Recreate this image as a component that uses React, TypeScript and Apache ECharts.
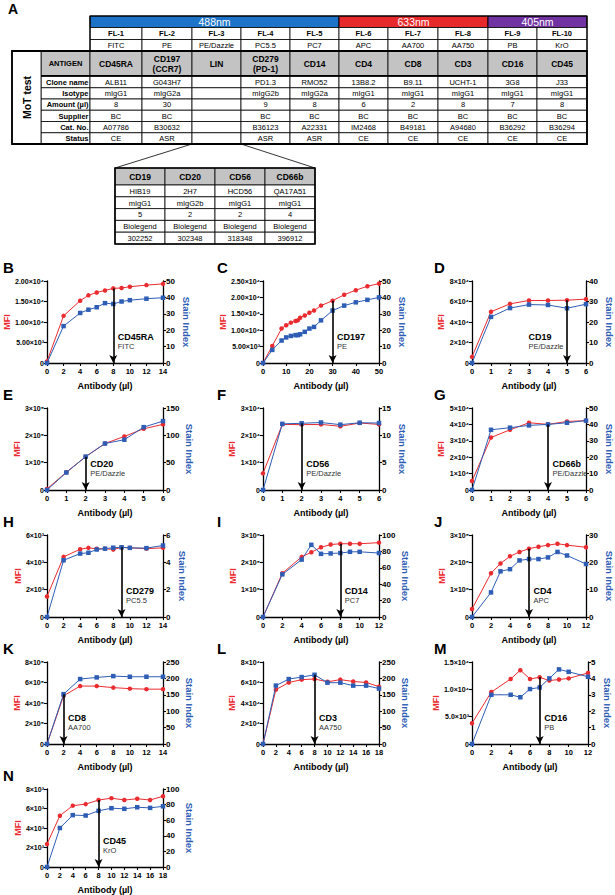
import React, { useEffect, useRef } from "react";
import * as echarts from "echarts";

// ---------- Table A data ----------
const lasers = ["488nm", "633nm", "405nm"];
const laserSpans = [5, 3, 2];
const laserColors = ["#1c73c7", "#e62a2c", "#7133a1"];
const channels = ["FL-1", "FL-2", "FL-3", "FL-4", "FL-5", "FL-6", "FL-7", "FL-8", "FL-9", "FL-10"];
const fluors = ["FITC", "PE", "PE/Dazzle", "PC5.5", "PC7", "APC", "AA700", "AA750", "PB", "KrO"];
const antigens = ["CD45RA", "CD197\n(CCR7)", "LIN", "CD279\n(PD-1)", "CD14", "CD4", "CD8", "CD3", "CD16", "CD45"];
const rowLabels = ["Clone name", "Isotype", "Amount (µl)", "Supplier", "Cat. No.", "Status"];
const cloneNames = ["ALB11", "G043H7", "", "PD1.3", "RMO52", "13B8.2", "B9.11", "UCHT-1", "3G8", "J33"];
const isotypes = ["mIgG1", "mIgG2a", "", "mIgG2b", "mIgG2a", "mIgG1", "mIgG1", "mIgG1", "mIgG1", "mIgG1"];
const amounts = ["8", "30", "", "9", "8", "6", "2", "8", "7", "8"];
const suppliers = ["BC", "BC", "", "BC", "BC", "BC", "BC", "BC", "BC", "BC"];
const catNos = ["A07786", "B30632", "", "B36123", "A22331", "IM2468", "B49181", "A94680", "B36292", "B36294"];
const statuses = ["CE", "ASR", "", "ASR", "ASR", "CE", "CE", "CE", "CE", "CE"];

const linAntigens = ["CD19", "CD20", "CD56", "CD66b"];
const linClones = ["HIB19", "2H7", "HCD56", "QA17A51"];
const linIsotypes = ["mIgG1", "mIgG2b", "mIgG1", "mIgG1"];
const linAmounts = ["5", "2", "2", "4"];
const linSuppliers = ["Biolegend", "Biolegend", "Biolegend", "Biolegend"];
const linCatNos = ["302252", "302348", "318348", "396912"];

// ---------- Panel data ----------
const bX = [0, 2, 4, 5, 6, 7, 8, 9, 10, 12, 14];
const bMFI = [400, 11500, 15200, 16500, 17200, 17700, 18200, 18300, 18600, 19000, 19300];
const bSI = [0, 22.5, 30.5, 32.5, 34, 36.5, 36, 37.5, 38.3, 39.2, 39.8];

const cX = [0, 4, 8, 10, 12, 14, 15, 16, 18, 20, 22, 25, 30, 35, 40, 45, 50];
const cMFI = [0, 5200, 10500, 11500, 12300, 12800, 13000, 13800, 14500, 15300, 16000, 17500, 19000, 20800, 22200, 23400, 24200];
const cSI = [0, 8, 13.7, 15.6, 16.5, 17, 17, 17.5, 19, 21, 22, 26, 32, 35, 37, 38.5, 40];

const dX = [0, 1, 2, 3, 4, 5, 6];
const dMFI = [6000, 50000, 57700, 61000, 61000, 61300, 62300];
const dSI = [0, 22.5, 26.8, 28.5, 28.3, 26.7, 28.7];

const eX = [0, 1, 2, 3, 4, 5, 6];
const eMFI = [4000, 65000, 122000, 170000, 196000, 224000, 240000];
const eSI = [0, 32, 61, 85, 92, 115, 126];

const fX = [0, 1, 2, 3, 4, 5, 6];
const fMFI = [6100, 24000, 23900, 24000, 23300, 24500, 24000];
const fSI = [0, 12.1, 12.2, 12.35, 11.95, 12.3, 12.25];

const gX = [0, 1, 2, 3, 4, 5, 6];
const gMFI = [5500, 32000, 36700, 41000, 40000, 41800, 42300];
const gSI = [0, 36.7, 38, 39.4, 40, 41, 42.3];

const hX = [0, 2, 4, 5, 6, 7, 8, 9, 10, 12, 14];
const hMFI = [1500, 4400, 4960, 5060, 4990, 5000, 4940, 5100, 5060, 5000, 5060];
const hSI = [0, 4.15, 4.64, 4.7, 4.94, 5.0, 5.07, 5.1, 5.06, 5.04, 5.23];

const iX = [0, 2, 4, 5, 6, 7, 8, 9, 10, 12];
const iMFI = [0, 160000, 220000, 237000, 255000, 265000, 268000, 268000, 268000, 272000];
const iSI = [0, 52, 70, 88, 77, 77.5, 78, 79.5, 79.5, 78];

const jX = [0, 2, 3, 4, 5, 6, 7, 8, 9, 10, 12];
const jMFI = [29000, 160000, 196000, 222000, 238000, 250000, 257000, 263000, 268000, 263000, 255000];
const jSI = [0, 9, 16.7, 17.5, 20.7, 21.2, 21.2, 21.8, 23.8, 22.5, 19.4];

const kX = [0, 2, 4, 6, 8, 10, 12, 14];
const kMFI = [0, 470000, 565000, 565000, 550000, 540000, 535000, 535000];
const kSI = [0, 152, 198, 203, 207, 205, 205, 205];

const lX = [0, 2, 4, 6, 8, 10, 12, 14, 16, 18];
const lMFI = [0, 53000, 60000, 62800, 63400, 60700, 62800, 61000, 60000, 56000];
const lSI = [0, 178, 198, 204, 211, 187, 187, 178, 178, 169];

const mX = [0, 2, 4, 5, 6, 7, 8, 9, 10, 12];
const mMFI = [3800, 9500, 11900, 13500, 11900, 12200, 11600, 11800, 12000, 13000];
const mSI = [0, 3.0, 3.0, 2.85, 3.35, 3.45, 4.0, 4.55, 4.4, 4.1];

const nX = [0, 2, 4, 6, 8, 10, 12, 14, 16, 18];
const nMFI = [2350, 5260, 6290, 6450, 6870, 7060, 6870, 7000, 6870, 7260];
const nSI = [0, 50, 66.5, 66, 72, 75.4, 74.6, 76.6, 75.8, 77.8];

const panelLetters = ["B", "C", "D", "E", "F", "G", "H", "I", "J", "K", "L", "M", "N"];
const panelMarkers = ["CD45RA", "CD197", "CD19", "CD20", "CD56", "CD66b", "CD279", "CD14", "CD4", "CD8", "CD3", "CD16", "CD45"];
const panelFluors = ["FITC", "PE", "PE/Dazzle", "PE/Dazzle", "PE/Dazzle", "PE/Dazzle", "PC5.5", "PC7", "APC", "AA700", "AA750", "PB", "KrO"];
const arrowAt = [8, 30, 5, 2, 2, 4, 9, 8, 6, 2, 8, 7, 8];
const xMax = [14, 50, 6, 6, 6, 6, 14, 12, 12, 14, 18, 12, 18];
const xStep = [2, 10, 1, 1, 1, 1, 2, 2, 2, 2, 2, 2, 2];
const mfiMax = [2e4, 2.5e4, 8e4, 3e5, 3e4, 5e4, 6e3, 3e5, 3e5, 8e5, 8e4, 1.5e4, 8e3];
const mfiStep = [5e3, 5e3, 2e4, 1e5, 1e4, 1e4, 2e3, 1e5, 1e5, 2e5, 2e4, 5e3, 2e3];
const mfiTickLabels = [
  ["0", "5.00×10³", "1.00×10⁴", "1.50×10⁴", "2.00×10⁴"],
  ["0", "5.00×10³", "1.00×10⁴", "1.50×10⁴", "2.00×10⁴", "2.50×10⁴"],
  ["0", "2×10⁴", "4×10⁴", "6×10⁴", "8×10⁴"],
  ["0", "1×10⁵", "2×10⁵", "3×10⁵"],
  ["0", "1×10⁴", "2×10⁴", "3×10⁴"],
  ["0", "1×10⁴", "2×10⁴", "3×10⁴", "4×10⁴", "5×10⁴"],
  ["0", "2×10³", "4×10³", "6×10³"],
  ["0", "1×10⁵", "2×10⁵", "3×10⁵"],
  ["0", "1×10⁵", "2×10⁵", "3×10⁵"],
  ["0", "2×10⁵", "4×10⁵", "6×10⁵", "8×10⁵"],
  ["0", "2×10⁴", "4×10⁴", "6×10⁴", "8×10⁴"],
  ["0", "5.0×10³", "1.0×10⁴", "1.5×10⁴"],
  ["0", "2×10³", "4×10³", "6×10³", "8×10³"],
];
const siMax = [50, 50, 40, 150, 15, 50, 6, 100, 30, 250, 250, 5, 100];
const siStep = [10, 10, 10, 50, 5, 10, 2, 20, 10, 50, 50, 1, 20];
const panelX = [bX, cX, dX, eX, fX, gX, hX, iX, jX, kX, lX, mX, nX];
const panelMFI = [bMFI, cMFI, dMFI, eMFI, fMFI, gMFI, hMFI, iMFI, jMFI, kMFI, lMFI, mMFI, nMFI];
const panelSI = [bSI, cSI, dSI, eSI, fSI, gSI, hSI, iSI, jSI, kSI, lSI, mSI, nSI];

// ---------- Layout / style ----------
const RED = "#ea2b30";
const BLUE = "#2e5db6";
const FONT = '"Liberation Sans", Arial, sans-serif';
const colLeft = [47, 263, 472];
const letterX = [3, 217, 434];
const rowTop = [281, 408, 535, 662, 789];
const plotW = 116;
const plotH = 82;
const labelOnLeft = [false, false, true, false, false, false, false, false, false, false, false, false, false];

const tableColX = [90, 142, 192, 241, 290, 339, 388, 438, 488, 537, 587];
const linColX = [115, 165, 215, 265, 315];

function buildGraphics() {
  const G: any[] = [];
  const rect = (x: number, y: number, w: number, h: number, fill: string, lw = 0.8) =>
    G.push({ type: "rect", silent: true, shape: { x, y, width: w, height: h }, style: { fill, stroke: "#000", lineWidth: lw } });
  const frame = (x: number, y: number, w: number, h: number, lw: number) =>
    G.push({ type: "rect", silent: true, shape: { x, y, width: w, height: h }, style: { fill: "none", stroke: "#000", lineWidth: lw } });
  const txt = (x: number, y: number, s: string, font: string, fill = "#000", align = "center", rot = 0) =>
    G.push({
      type: "text", silent: true, x, y, rotation: rot,
      style: { text: s, font, fill, textAlign: align, textVerticalAlign: "middle", align, verticalAlign: "middle", lineHeight: 10 },
    });

  // Label A
  txt(13, 9, "A", `bold 14px ${FONT}`, "#000", "center");

  // Laser header
  let ci = 0;
  lasers.forEach((l, k) => {
    const x0 = tableColX[ci];
    const x1 = tableColX[ci + laserSpans[k]];
    rect(x0, 16, x1 - x0, 11.5, laserColors[k], 1);
    txt((x0 + x1) / 2, 22, l, `10.5px ${FONT}`, "#fff");
    ci += laserSpans[k];
  });
  // FL and fluor rows
  channels.forEach((c, k) => {
    const x0 = tableColX[k], w = tableColX[k + 1] - x0;
    rect(x0, 27.5, w, 12, "#fff");
    txt(x0 + w / 2, 33.7, c, `bold 7.5px ${FONT}`);
    rect(x0, 39.5, w, 11.5, "#fff");
    txt(x0 + w / 2, 45.4, fluors[k], `7.5px ${FONT}`);
  });
  frame(90, 16, 497, 35, 1.2);

  // Antigen row
  rect(41, 51, 49, 24.5, "#c3c3c3");
  txt(65.5, 63.3, "ANTIGEN", `bold 7.5px ${FONT}`);
  antigens.forEach((a, k) => {
    const x0 = tableColX[k], w = tableColX[k + 1] - x0;
    rect(x0, 51, w, 24.5, "#c3c3c3");
    txt(x0 + w / 2, 63.5, a, `bold 8.5px ${FONT}`);
  });
  // Data rows
  const rowsData = [cloneNames, isotypes, amounts, suppliers, catNos, statuses];
  const rowY0 = 76.5;
  const rowH = 11.25;
  rowsData.forEach((row, r) => {
    const y = rowY0 + r * rowH;
    rect(41, y, 49, rowH, "#fff");
    txt(88.5, y + rowH / 2 + 0.3, rowLabels[r], `bold 7.5px ${FONT}`, "#000", "right");
    row.forEach((v, k) => {
      const x0 = tableColX[k], w = tableColX[k + 1] - x0;
      rect(x0, y, w, rowH, "#fff");
      if (v) txt(x0 + w / 2, y + rowH / 2 + 0.3, v, `7.5px ${FONT}`);
    });
  });
  // MoT test column
  rect(12, 51, 29, 93, "#fff");
  txt(27, 97.5, "MoT test", `bold 10.5px ${FONT}`, "#000", "center", Math.PI / 2);
  G.push({ type: "line", silent: true, shape: { x1: 41, y1: 75.8, x2: 587, y2: 75.8 }, style: { stroke: "#000", lineWidth: 1.6 } });
  frame(12, 51, 575, 93, 1.8);

  // Connector lines
  G.push({ type: "line", silent: true, shape: { x1: 192, y1: 144, x2: linColX[0], y2: 168 }, style: { stroke: "#000", lineWidth: 0.8 } });
  G.push({ type: "line", silent: true, shape: { x1: 241, y1: 144, x2: linColX[4], y2: 168 }, style: { stroke: "#000", lineWidth: 0.8 } });

  // LIN sub-table
  linAntigens.forEach((a, k) => {
    const x0 = linColX[k], w = linColX[k + 1] - x0;
    rect(x0, 168, w, 17, "#c3c3c3");
    txt(x0 + w / 2, 176.8, a, `bold 8.5px ${FONT}`);
  });
  const linRows = [linClones, linIsotypes, linAmounts, linSuppliers, linCatNos];
  linRows.forEach((row, r) => {
    const y = 185 + r * 11.8;
    row.forEach((v, k) => {
      const x0 = linColX[k], w = linColX[k + 1] - x0;
      rect(x0, y, w, 11.8, "#fff");
      txt(x0 + w / 2, y + 6.2, v, `7.5px ${FONT}`);
    });
  });
  frame(linColX[0], 168, linColX[4] - linColX[0], 76, 1.6);

  // Panel letters
  panelLetters.forEach((L, i) => {
    const r = Math.floor(i / 3), c = i % 3;
    G.push({
      type: "text", silent: true, x: letterX[c], y: rowTop[r] - 14,
      style: { text: L, font: `bold 15px ${FONT}`, fill: "#000", textAlign: "left", textVerticalAlign: "middle", align: "left", verticalAlign: "middle" },
    });
  });
  return G;
}

function buildOption() {
  const grids: any[] = [];
  const xAxes: any[] = [];
  const yAxes: any[] = [];
  const series: any[] = [];
  const axisLine = { show: true, onZero: false, lineStyle: { color: "#000", width: 1.3 } };
  const axisTick = { show: true, inside: false, length: 3, lineStyle: { color: "#000", width: 1.1 } };

  panelLetters.forEach((_, i) => {
    const r = Math.floor(i / 3), c = i % 3;
    grids.push({ left: colLeft[c], top: rowTop[r], width: plotW, height: plotH });
    xAxes.push({
      type: "value", gridIndex: i, min: 0, max: xMax[i], interval: xStep[i],
      axisLine, axisTick, splitLine: { show: false },
      axisLabel: { fontSize: 7.5, fontWeight: "bold", color: "#000", margin: 4, fontFamily: FONT },
      name: "Antibody (µl)", nameLocation: "middle", nameGap: 18,
      nameTextStyle: { fontSize: 9, fontWeight: "bold", color: "#000", fontFamily: FONT },
    });
    const labels = mfiTickLabels[i];
    const maxLen = Math.max(...labels.map((s) => s.length));
    yAxes.push({
      type: "value", gridIndex: i, position: "left", min: 0, max: mfiMax[i], interval: mfiStep[i],
      axisLine, axisTick, splitLine: { show: false },
      axisLabel: {
        fontSize: 7, fontWeight: "bold", color: "#000", margin: 3, fontFamily: FONT,
        formatter: (v: number) => labels[Math.round(v / mfiStep[i])] ?? "",
      },
      name: "MFI", nameLocation: "middle", nameGap: maxLen * 3.6 + 6,
      nameTextStyle: { fontSize: 9, fontWeight: "bold", color: RED, fontFamily: FONT },
    });
    const siLen = String(siMax[i]).length;
    yAxes.push({
      type: "value", gridIndex: i, position: "right", min: 0, max: siMax[i], interval: siStep[i],
      axisLine, axisTick, splitLine: { show: false },
      axisLabel: { fontSize: 8, fontWeight: "bold", color: "#000", margin: 3, fontFamily: FONT },
      name: "Stain Index", nameLocation: "middle", nameGap: siLen * 3.5 + 11, nameRotate: -90,
      nameTextStyle: { fontSize: 9.5, fontWeight: "bold", color: BLUE, fontFamily: FONT },
    });

    const xs = panelX[i];
    const ai = xs.indexOf(arrowAt[i]);
    const startVal = Math.max(panelMFI[i][ai], (panelSI[i][ai] / siMax[i]) * mfiMax[i]);
    const left = labelOnLeft[i];
    series.push({
      type: "line", xAxisIndex: i, yAxisIndex: 2 * i,
      data: xs.map((x, k) => [x, panelMFI[i][k]]),
      symbol: "circle", symbolSize: 4.5,
      lineStyle: { color: RED, width: 1 }, itemStyle: { color: RED },
      z: 3,
      markLine: {
        silent: true, symbol: ["none", "arrow"], symbolSize: [6, 8],
        label: { show: false },
        lineStyle: { color: "#000", width: 1.6, type: "solid" },
        data: [[{ coord: [arrowAt[i], startVal] }, { coord: [arrowAt[i], 0] }]],
      },
      markPoint: {
        silent: true, symbol: "circle", symbolSize: 1, itemStyle: { color: "rgba(0,0,0,0)" },
        data: [{
          coord: [arrowAt[i], 0],
          label: {
            show: true, position: [left ? -38 : 5, -31], align: "left",
            formatter: `{n|${panelMarkers[i]}}\n{f|${panelFluors[i]}}`,
            rich: {
              n: { fontSize: 9, fontWeight: "bold", color: "#000", lineHeight: 10, fontFamily: FONT },
              f: { fontSize: 7.5, color: "#333", lineHeight: 9, fontFamily: FONT },
            },
          },
        }],
      },
    });
    series.push({
      type: "line", xAxisIndex: i, yAxisIndex: 2 * i + 1,
      data: xs.map((x, k) => [x, panelSI[i][k]]),
      symbol: "rect", symbolSize: 4.5,
      lineStyle: { color: BLUE, width: 1 }, itemStyle: { color: BLUE },
      z: 4,
    });
  });

  return {
    animation: false,
    backgroundColor: "#fff",
    textStyle: { fontFamily: FONT },
    grid: grids,
    xAxis: xAxes,
    yAxis: yAxes,
    series,
    graphic: buildGraphics(),
  };
}

export default function App() {
  const ref = useRef<HTMLDivElement>(null);
  useEffect(() => {
    if (!ref.current) return;
    const chart = echarts.init(ref.current, undefined, { renderer: "svg" });
    chart.setOption(buildOption() as any);
    return () => chart.dispose();
  }, []);
  return (
    <div
      ref={ref}
      style={{ position: "absolute", left: 0, top: 0, width: 615, height: 895, background: "#fff" }}
    />
  );
}
